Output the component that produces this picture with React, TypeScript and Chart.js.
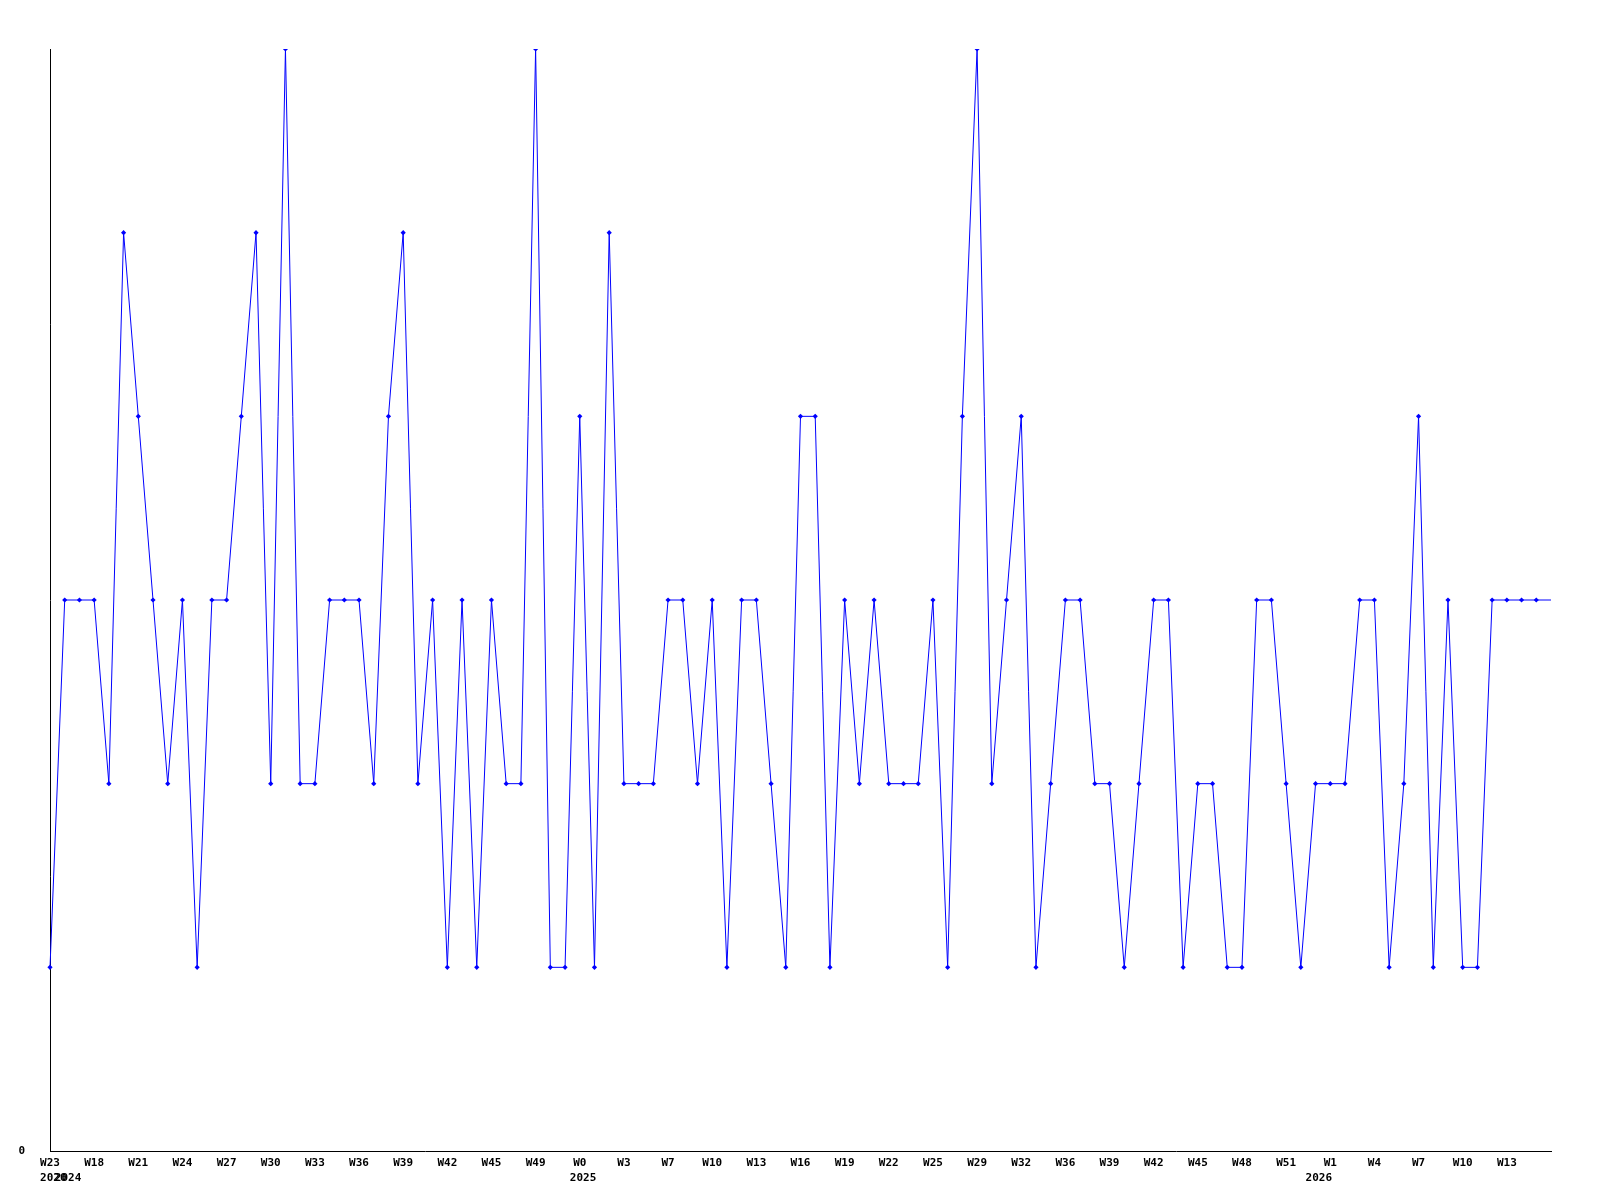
import React, { useEffect, useRef } from 'react';
import { Chart, registerables } from 'chart.js';
Chart.register(...registerables);

// Category (week) labels, one per point
const weeks: string[] = [
  'W23',
  'W16', 'W17', 'W18', 'W19', 'W20', 'W21', 'W22', 'W23', 'W24', 'W25',
  'W26', 'W27', 'W28', 'W29', 'W30', 'W31', 'W32', 'W33', 'W34', 'W35',
  'W36', 'W37', 'W38', 'W39', 'W40', 'W41', 'W42', 'W43', 'W44', 'W45',
  'W46', 'W48', 'W49', 'W50', 'W51',
  'W0', 'W1', 'W2', 'W3', 'W4', 'W5', 'W7', 'W8', 'W9', 'W10',
  'W11', 'W12', 'W13', 'W14', 'W15', 'W16', 'W17', 'W18', 'W19', 'W20',
  'W21', 'W22', 'W23', 'W24', 'W25', 'W26', 'W28', 'W29', 'W30', 'W31',
  'W32', 'W33', 'W35', 'W36', 'W37', 'W38', 'W39', 'W40', 'W41', 'W42',
  'W43', 'W44', 'W45', 'W46', 'W47', 'W48', 'W49', 'W50', 'W51', 'W52',
  'W0', 'W1', 'W2', 'W3', 'W4', 'W5', 'W6', 'W7', 'W8', 'W9',
  'W10', 'W11', 'W12', 'W13', 'W14', 'W15', 'W16',
];

// Series values
const values: number[] = [
  1,
  3, 3, 3, 2, 5, 4, 3, 2, 3, 1,
  3, 3, 4, 5, 2, 6, 2, 2, 3, 3,
  3, 2, 4, 5, 2, 3, 1, 3, 1, 3,
  2, 2, 6, 1, 1,
  4, 1, 5, 2, 2, 2, 3, 3, 2, 3,
  1, 3, 3, 2, 1, 4, 4, 1, 3, 2,
  3, 2, 2, 2, 3, 1, 4, 6, 2, 3,
  4, 1, 2, 3, 3, 2, 2, 1, 2, 3,
  3, 1, 2, 2, 1, 1, 3, 3, 2, 1,
  2, 2, 2, 3, 3, 1, 2, 4, 1, 3,
  1, 1, 3, 3, 3, 3, 3,
];

// Year labels shown under the week labels
const yearIndexes: number[] = [0, 1, 36, 86];
const yearNames: string[] = ['2020', '2024', '2025', '2026'];

const labelStep = 3;
const yMin = 0;
const yMax = 6;

export default function App() {
  const ref = useRef<HTMLCanvasElement>(null);
  useEffect(() => {
    const font = { family: '"DejaVu Sans Mono", monospace', size: 11, weight: 'bold' as const, lineHeight: 1.4 };
    const last = values.length - 1;
    const chart = new Chart(ref.current!, {
      type: 'line',
      data: {
        labels: weeks,
        datasets: [
          {
            data: values,
            borderColor: '#0000ff',
            backgroundColor: '#0000ff',
            borderWidth: 1,
            pointStyle: 'rectRot',
            pointBackgroundColor: '#0000ff',
            pointBorderColor: '#0000ff',
            pointBorderWidth: 0,
            pointRadius: values.map((_, i) => (i === last ? 0 : 2.6)),
            tension: 0,
            fill: false,
          },
        ],
      },
      options: {
        animation: false,
        responsive: false,
        maintainAspectRatio: false,
        layout: { padding: { top: 49, right: 49, left: 0, bottom: 0 } },
        plugins: { legend: { display: false }, tooltip: { enabled: false } },
        scales: {
          x: {
            type: 'category',
            offset: false,
            grid: { display: false, drawTicks: false },
            border: { display: true, color: '#000000', width: 1 },
            ticks: {
              autoSkip: false,
              maxRotation: 0,
              minRotation: 0,
              padding: 4,
              color: '#000000',
              font,
              callback: (_v: any, i: number) => {
                const w = i % labelStep === 0 && i < last ? weeks[i] : '';
                const yi = yearIndexes.indexOf(i);
                if (yi >= 0) return [w, ' ' + yearNames[yi]];
                return w;
              },
            },
            afterFit: (s: any) => {
              s.height = 49;
            },
          },
          y: {
            min: yMin,
            max: yMax,
            grid: { display: false, drawTicks: false },
            border: { display: true, color: '#000000', width: 1 },
            ticks: {
              stepSize: 1,
              padding: 25,
              color: '#000000',
              font,
              callback: (v: any) => (v === 0 ? '0' : ''),
            },
            afterFit: (s: any) => {
              s.width = 50;
            },
          },
        },
      },
    } as any);
    return () => chart.destroy();
  }, []);
  return (
    <div style={{ position: 'fixed', left: 0, top: 0, width: 1600, height: 1200, background: '#ffffff' }}>
      <canvas ref={ref} width={1600} height={1200} style={{ width: 1600, height: 1200, display: 'block' }} />
    </div>
  );
}
